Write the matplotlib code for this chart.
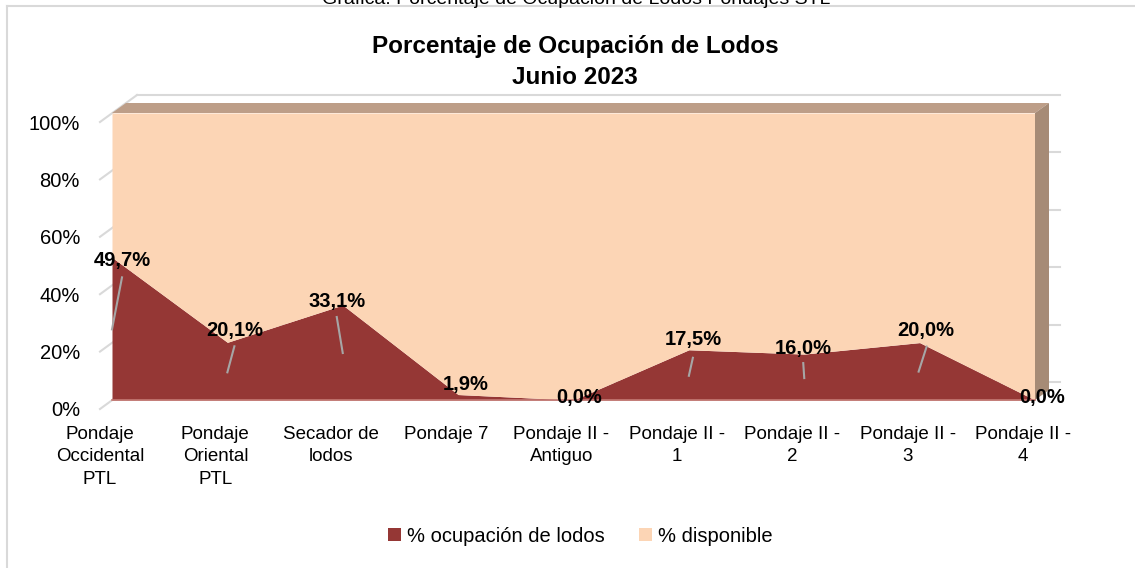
import matplotlib
matplotlib.use('Agg')
import matplotlib.pyplot as plt
from matplotlib.lines import Line2D
from matplotlib.patches import Polygon
from matplotlib.transforms import ScaledTranslation

plt.rcParams['font.family'] = ['Liberation Sans', 'DejaVu Sans']

# datos
categorias = ['Pondaje\nOccidental\nPTL', 'Pondaje\nOriental\nPTL', 'Secador de\nlodos', 'Pondaje 7',
              'Pondaje II -\nAntiguo', 'Pondaje II -\n1', 'Pondaje II -\n2', 'Pondaje II -\n3',
              'Pondaje II -\n4']
ocupacion = [0.497, 0.201, 0.331, 0.019, 0.0, 0.175, 0.160, 0.200, 0.0]
disponible = [0.503, 0.799, 0.669, 0.981, 1.0, 0.825, 0.840, 0.800, 1.0]
yticks = [0, 0.2, 0.4, 0.6, 0.8, 1.0]
ytick_labels = ['0%', '20%', '40%', '60%', '80%', '100%']
serie_nombres = ['% ocupación de lodos', '% disponible']

# posicion de etiquetas de datos (px respecto al punto) y lineas guia
lbl_off = [(10, -3), (7, 12), (-6, 4), (8, 10), (6, 3), (4, 10), (-1, 6), (6, 12), (7, 3)]
guias = [((10, -20), (0, -72)), ((7, -4), (0, -30)), ((-6, -12), (0, -48)), None, None,
         ((4, -8), (0, -26)), ((-1, -9), (0, -24)), ((7, -4), (-1, -29)), None]

c_ocup = '#953735'
c_disp = '#fcd5b5'
c_top = '#bd9e88'
c_lado = '#a68b76'
c_grid = '#d9d9d9'

fig = plt.figure(figsize=(11.35, 5.68), dpi=100)
W, H = 1135, 568
ax = fig.add_axes([112 / W, 168 / H, 923 / W, 287 / H])
x = list(range(len(categorias)))
ax.set_xlim(0, len(categorias) - 1)
ax.set_ylim(0, 1)
ax.axis('off')


def desplazar(dx, dy):
    return ax.transData + ScaledTranslation(dx / 100, dy / 100, fig.dpi_scale_trans)


def px2data(dx, dy):
    sx = (len(categorias) - 1) / 923
    sy = 1 / 287
    return dx * sx, dy * sy


# area apilada
ax.fill_between(x, 0, ocupacion, color=c_ocup, lw=0, zorder=2, label=serie_nombres[0])
tope = [o + d for o, d in zip(ocupacion, disponible)]
ax.fill_between(x, ocupacion, tope, color=c_disp, lw=0, zorder=2, label=serie_nombres[1])
ax.plot(x, [0] * len(x), color='#c47a74', lw=1.2, zorder=2.5, clip_on=False)

# caras 3D
xmax = len(categorias) - 1
ddx, ddy = px2data(14, 10)
ax.add_patch(Polygon([(0, 1), (xmax, 1), (xmax + ddx, 1 + ddy), (ddx, 1 + ddy)],
                     closed=True, color=c_top, lw=0, zorder=2, clip_on=False))
ax.add_patch(Polygon([(xmax, 0), (xmax, 1), (xmax + ddx, 1 + ddy), (xmax + ddx, ddy)],
                     closed=True, color=c_lado, lw=0, zorder=2, clip_on=False))

# paredes: fondo y lateral
bx, by = px2data(25, 18)
fx, fy = px2data(-12, -9)
for v in yticks:
    ax.plot([bx, xmax + bx], [v + by, v + by], color=c_grid, lw=1.5, zorder=0.5, clip_on=False)
    ax.plot([fx, bx], [v + fy, v + by], color=c_grid, lw=1.5, zorder=0.5, clip_on=False)

# etiquetas eje y
for v, t in zip(yticks, ytick_labels):
    ax.text(0, v, t, transform=desplazar(-32, -11), ha='right', va='center', fontsize=14.5)

# etiquetas categorias
for i, c in enumerate(categorias):
    ax.text(i, 0, c, transform=desplazar(-12, -26), ha='center', va='top', fontsize=13.5,
            linespacing=1.42)

# etiquetas de datos
for i, v in enumerate(ocupacion):
    txt = f'{v * 100:.1f}%'.replace('.', ',')
    ox, oy = lbl_off[i]
    ax.text(i, v, txt, transform=desplazar(ox, oy), ha='center', va='center',
            fontsize=14.5, fontweight='bold', zorder=5)
    if guias[i]:
        (x1, y1), (x2, y2) = guias[i]
        d1 = px2data(x1, y1)
        d2 = px2data(x2, y2)
        ax.plot([i + d1[0], i + d2[0]], [v + d1[1], v + d2[1]], color='#a6a6a6', lw=1.5, zorder=4,
                clip_on=False)

# titulo
fig.text(575 / W, 1 - 62 / H, 'Porcentaje de Ocupación de Lodos\nJunio 2023', ha='center',
         va='center', fontsize=17.5, fontweight='bold', linespacing=1.5)
fig.text(576 / W, 1 - 4 / H, 'Gráfica: Porcentaje de Ocupación de Lodos Pondajes STL',
         ha='center', va='baseline', fontsize=14)

# marco
fig.add_artist(Line2D([7 / W, 7 / W], [0, 1 - 6 / H], transform=fig.transFigure, color=c_grid, lw=1.5))
fig.add_artist(Line2D([7 / W, 1], [1 - 6 / H, 1 - 6 / H], transform=fig.transFigure, color=c_grid, lw=1.5))

# leyenda
fig.legend(loc='center', bbox_to_anchor=(580 / W, 1 - 536 / H), ncol=2, frameon=False, fontsize=14.5,
           handlelength=0.65, handleheight=0.65, handletextpad=0.3, columnspacing=1.7)

fig.savefig('out.png', dpi=100)
